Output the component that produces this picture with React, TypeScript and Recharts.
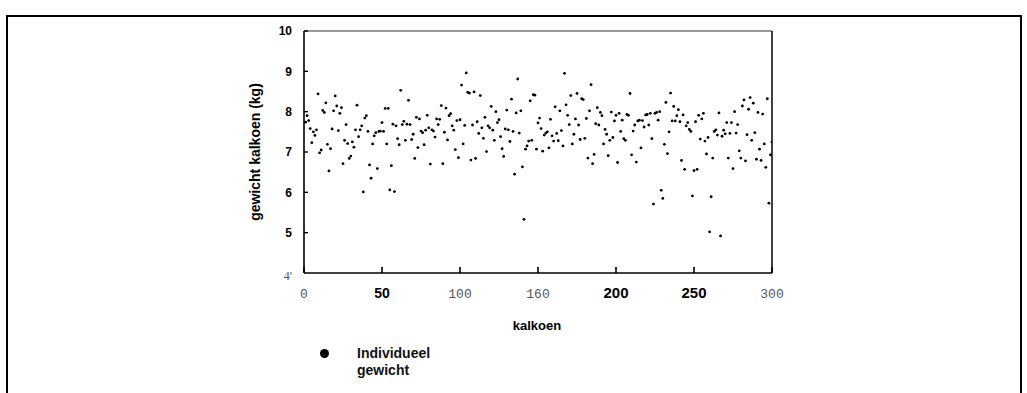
import { ScatterChart, Scatter, XAxis, YAxis, ReferenceLine, Label } from "recharts";

// gewicht per kalkoen (kg), kalkoen 1..300 in volgorde
const gewicht = [
  7.74, 7.9, 7.78, 7.58, 7.23, 7.5, 7.41, 7.55, 8.44, 6.98,
  7.05, 8.03, 7.98, 8.22, 7.19, 6.53, 7.08, 7.57, 8.02, 8.39,
  8.14, 7.53, 7.96, 8.1, 6.71, 7.29, 7.68, 7.21, 6.84, 6.9,
  7.25, 7.12, 7.55, 8.16, 7.38, 7.55, 7.65, 6.01, 7.84, 7.9,
  7.51, 6.68, 6.35, 7.2, 7.4, 7.48, 6.59, 7.51, 7.52, 7.73,
  7.51, 8.08, 7.2, 8.08, 6.06, 6.66, 7.69, 6.02, 7.65, 7.33,
  7.18, 8.53, 7.68, 7.76, 7.29, 7.69, 8.28, 7.68, 7.31, 7.44,
  6.84, 7.86, 7.11, 7.82, 7.52, 7.48, 7.18, 7.54, 7.91, 7.6,
  6.7, 7.55, 7.52, 7.37, 7.82, 7.68, 7.81, 8.15, 6.71, 7.49,
  8.09, 7.3, 7.9, 7.95, 7.65, 7.54, 7.06, 7.78, 6.86, 7.8,
  8.66, 7.2, 7.66, 8.96, 8.48, 8.46, 6.8, 7.67, 8.49, 6.84,
  7.75, 7.46, 8.4, 7.6, 7.34, 7.86, 7.01, 7.65, 7.6, 8.13,
  7.54, 7.29, 8.0, 7.73, 7.8, 7.38, 7.08, 6.89, 7.57, 8.04,
  7.55, 7.26, 8.31, 7.51, 6.45, 7.97, 8.81, 7.47, 8.02, 6.63,
  5.33, 7.07, 7.15, 7.27, 8.27, 7.29, 8.42, 8.41, 7.07, 7.72,
  7.84, 7.58, 7.02, 7.42, 7.47, 7.5, 7.1, 7.81, 7.4, 7.27,
  8.12, 7.46, 7.28, 8.02, 7.53, 7.15, 8.95, 8.17, 7.91, 7.68,
  8.4, 7.2, 7.44, 7.82, 8.45, 7.67, 7.31, 8.32, 8.3, 7.34,
  7.83, 6.85, 8.02, 8.67, 6.71, 6.94, 7.7, 8.1, 7.67, 7.98,
  7.9, 7.2, 7.56, 7.44, 6.91, 7.29, 7.99, 7.36, 7.77, 7.91,
  6.74, 7.96, 7.51, 7.79, 7.33, 7.29, 7.93, 7.91, 8.45, 6.93,
  7.52, 7.67, 6.75, 7.77, 7.79, 7.1, 7.78, 7.62, 7.92, 7.93,
  7.67, 7.96, 7.33, 5.71, 7.96, 7.98, 7.79, 8.0, 6.05, 5.85,
  7.19, 8.23, 6.96, 7.5, 8.46, 7.77, 8.13, 7.77, 7.9, 8.05,
  7.75, 6.79, 7.92, 6.57, 7.65, 7.73, 7.56, 7.51, 5.91, 6.54,
  7.75, 6.57, 7.91, 7.32, 7.82, 7.96, 7.27, 6.95, 7.36, 5.02,
  5.89, 6.85, 7.51, 7.55, 7.42, 7.97, 4.92, 7.39, 7.54, 7.45,
  7.73, 6.85, 7.46, 7.73, 6.59, 8.0, 7.47, 7.68, 7.03, 6.85,
  8.14, 8.29, 6.78, 7.43, 8.06, 8.35, 7.29, 8.21, 7.48, 6.82,
  7.98, 7.07, 6.79, 7.94, 7.2, 6.62, 8.32, 5.73, 6.93, 7.25,
];

const xTicks = [0, 50, 100, 150, 200, 250, 300];
const xTickLabels = ["0", "50", "100", "160", "200", "250", "300"];
const yTicks = [4, 5, 6, 7, 8, 9, 10];
const yTickLabels = ["4'", "5", "6", "7", "8", "9", "10"];

const data = gewicht.map((g, i) => ({ nr: i + 1, gewicht: g }));

const bold = { fontFamily: "'Liberation Sans', Arial, sans-serif", fontWeight: 700, fill: "#000" };
const mono = { fontFamily: "'Liberation Mono', monospace", fontWeight: 400, fill: "#555", fontSize: 13 };

const xTickStyle = [
  mono,
  { ...bold, fontSize: 14 },
  mono,
  mono,
  { ...bold, fontSize: 15 },
  { ...bold, fontSize: 15 },
  mono,
];

function XTick(props: any) {
  const { x, y, payload } = props;
  const i = xTicks.indexOf(payload.value);
  return (
    <g>
      <line x1={x} x2={x} y1={y} y2={y - 6} stroke="#000" strokeWidth={1.6} />
      <text x={x} y={y + 25} textAnchor="middle" {...xTickStyle[i]}>
        {xTickLabels[i]}
      </text>
    </g>
  );
}

function YTick(props: any) {
  const { x, y, payload } = props;
  const i = yTicks.indexOf(payload.value);
  const style =
    i === 0
      ? { fontFamily: "'Liberation Serif', serif", fill: "#555", fontSize: 12 }
      : { ...bold, fontSize: 12 };
  return (
    <g>
      {i > 0 && <line x1={x} x2={x + 4} y1={y} y2={y} stroke="#000" strokeWidth={1.4} />}
      <text x={x - 12} y={i === 0 ? y + 3 : y} dy="0.35em" textAnchor="end" {...style}>
        {yTickLabels[i]}
      </text>
    </g>
  );
}

const Dot = (props: any) => <circle cx={props.cx} cy={props.cy} r={1.4} fill="#000" />;

const frameLine = { position: "absolute" as const, background: "#000", pointerEvents: "none" as const };

export default function App() {
  return (
    <div style={{ position: "absolute", left: 0, top: 0, width: 1027, height: 393, background: "#fff", overflow: "hidden" }}>
      <ScatterChart width={1027} height={393} margin={{ top: 31, right: 255, bottom: 0, left: 0 }}>
        <XAxis
          type="number"
          dataKey="nr"
          domain={[0, 300]}
          ticks={xTicks}
          interval={0}
          allowDataOverflow
          height={120}
          tickSize={0}
          tickMargin={0}
          tick={<XTick />}
          axisLine={{ stroke: "#000", strokeWidth: 1.6 }}
        >
          <Label
            content={() => (
              <text x={537} y={330} textAnchor="middle" {...bold} fontSize={13}>
                kalkoen
              </text>
            )}
          />
        </XAxis>
        <YAxis
          type="number"
          dataKey="gewicht"
          domain={[4, 10]}
          ticks={yTicks}
          interval={0}
          allowDataOverflow
          width={304}
          tickSize={0}
          tickMargin={0}
          tick={<YTick />}
          axisLine={{ stroke: "#000", strokeWidth: 1.6 }}
        >
          <Label
            content={() => (
              <text
                x={255}
                y={152}
                transform="rotate(-90 255 152)"
                textAnchor="middle"
                dy="0.35em"
                {...bold}
                fontSize={14}
              >
                gewicht kalkoen (kg)
              </text>
            )}
          />
        </YAxis>
        <ReferenceLine y={10} stroke="#777" strokeWidth={1.5} />
        <ReferenceLine x={300} stroke="#000" strokeWidth={1.5} />
        <Scatter data={data} shape={<Dot />} isAnimationActive={false} />
      </ScatterChart>
      {/* kader rond de figuur (zonder onderrand) */}
      <div style={{ ...frameLine, left: 6, top: 15, width: 1016, height: 2 }} />
      <div style={{ ...frameLine, left: 6, top: 15, width: 2, height: 378 }} />
      <div style={{ ...frameLine, left: 1020, top: 15, width: 2, height: 378 }} />
      <div style={{ position: "absolute", left: 320, top: 349, width: 9, height: 9, borderRadius: "50%", background: "#000" }} />
      <div
        style={{
          position: "absolute",
          left: 357,
          top: 345,
          fontFamily: "'Liberation Sans', Arial, sans-serif",
          fontWeight: 700,
          fontSize: 14,
          lineHeight: "17px",
          color: "#111",
        }}
      >
        Individueel
        <br />
        gewicht
      </div>
    </div>
  );
}
